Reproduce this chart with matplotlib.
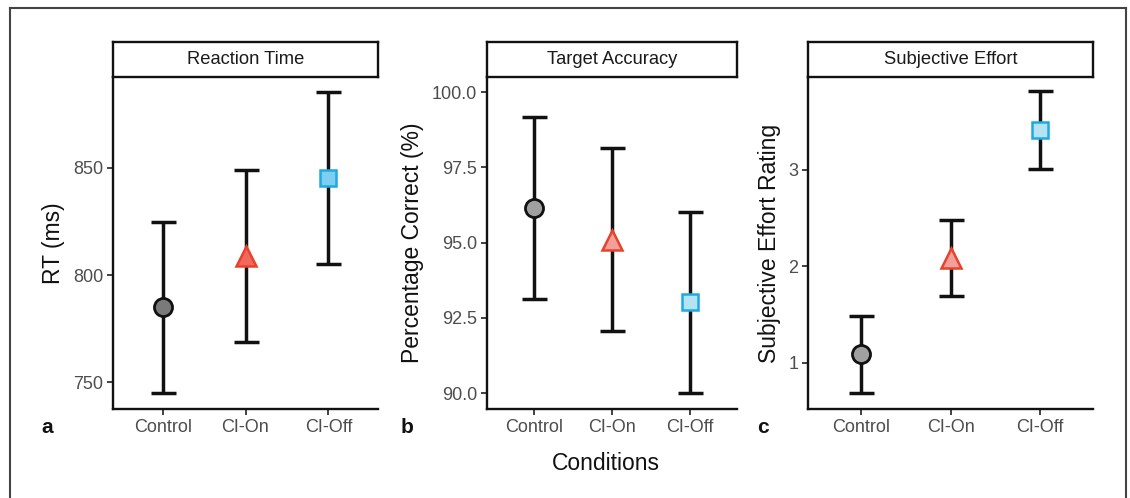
import matplotlib
matplotlib.use("Agg")
import matplotlib.pyplot as plt
from matplotlib.lines import Line2D

plt.rcParams['font.family'] = ['Liberation Sans', 'DejaVu Sans']

conditions = ['Control', 'CI-On', 'CI-Off']

rt_mean = [784.9, 808.9, 845.3]
rt_err = [40.0, 40.2, 40.2]

acc_mean = [96.15, 95.10, 93.02]
acc_err = [3.02, 3.03, 3.01]

effort_mean = [1.085, 2.085, 3.41]
effort_err = [0.395, 0.395, 0.40]

titles = ['Reaction Time', 'Target Accuracy', 'Subjective Effort']
ylabels = ['RT (ms)', 'Percentage Correct (%)', 'Subjective Effort Rating']
letters = ['a', 'b', 'c']
yticks = [[750, 800, 850], [90.0, 92.5, 95.0, 97.5, 100.0], [1, 2, 3]]
ytick_labels = [['750', '800', '850'], ['90.0', '92.5', '95.0', '97.5', '100.0'], ['1', '2', '3']]
ylims = [(737.4, 892.5), (89.47, 100.5), (0.52, 3.96)]

W, H = 1130, 498
fig = plt.figure(figsize=(W / 100, H / 100), dpi=100)

# axes geometry (pixels)
panels_px = [(113, 378), (487, 737), (808, 1093)]
ax_top, ax_bot = 77, 409
strip_top = 42
label_x = [-0.183, -0.252, -0.093]
letter_x = [47, 407, 763]

means = [rt_mean, acc_mean, effort_mean]
errs = [rt_err, acc_err, effort_err]

marker_styles = [
    dict(marker='o', ms=13, mew=2.0),
    dict(marker='^', ms=15, mew=1.8),
    dict(marker='s', ms=11.5, mew=1.8),
]
face_cols = [
    ['#7a7a7a', '#ef6a5c', '#7dcff0'],
    ['#a0a0a0', '#f4a09a', '#b4e2f6'],
    ['#a0a0a0', '#f4a09a', '#b4e2f6'],
]
edge_cols = ['#111111', '#e8412c', '#1ea9e1']

for i in range(3):
    x0, x1 = panels_px[i]
    ax = fig.add_axes([x0 / W, 1 - ax_bot / H, (x1 - x0) / W, (ax_bot - ax_top) / H])
    xs = list(range(len(conditions)))
    ax.errorbar(xs, means[i], yerr=errs[i], fmt='none', ecolor='#111111',
                elinewidth=2.5, capsize=9, capthick=2.5, zorder=2)
    for j, x in enumerate(xs):
        ax.plot([x], [means[i][j]], linestyle='none',
                markerfacecolor=face_cols[i][j], markeredgecolor=edge_cols[j],
                zorder=3, **marker_styles[j])
    ax.set_xlim(-0.6, 2.6)
    ax.set_ylim(*ylims[i])
    ax.set_xticks(xs)
    ax.set_xticklabels(conditions)
    ax.set_yticks(yticks[i])
    ax.set_yticklabels(ytick_labels[i])
    ax.tick_params(axis='both', labelsize=13, labelcolor='#4d4d4d', color='#333333',
                   length=4, width=1.3, pad=3)
    for s in ['top', 'right']:
        ax.spines[s].set_visible(False)
    for s in ['left', 'bottom']:
        ax.spines[s].set_linewidth(1.7)
        ax.spines[s].set_color('#111111')
    ax.set_ylabel(ylabels[i], fontsize=16.5, color='#111111')
    ax.yaxis.set_label_coords(label_x[i], 0.5)

    # strip box
    sax = fig.add_axes([x0 / W, 1 - ax_top / H, (x1 - x0) / W, (ax_top - strip_top) / H])
    sax.set_xticks([])
    sax.set_yticks([])
    for s in sax.spines.values():
        s.set_linewidth(1.7)
        s.set_color('#111111')
    sax.text(0.5, 0.5, titles[i], ha='center', va='center', fontsize=13.2,
             color='#1a1a1a', transform=sax.transAxes)

    fig.text(letter_x[i] / W, 1 - 427 / H, letters[i], fontsize=15, fontweight='bold',
             ha='center', va='center', color='#111111')

fig.text(606 / W, 1 - 463 / H, 'Conditions', fontsize=16.5, ha='center', va='center',
         color='#111111')

# outer frame (open at the bottom)
frame_col = '#444444'
fig.add_artist(Line2D([10 / W, 10 / W], [0, 1 - 8 / H], transform=fig.transFigure,
                      color=frame_col, lw=1.5))
fig.add_artist(Line2D([10 / W, 1126 / W], [1 - 8 / H, 1 - 8 / H], transform=fig.transFigure,
                      color=frame_col, lw=1.5))
fig.add_artist(Line2D([1126 / W, 1126 / W], [0, 1 - 8 / H], transform=fig.transFigure,
                      color=frame_col, lw=1.5))

fig.savefig('out.png', dpi=100)
